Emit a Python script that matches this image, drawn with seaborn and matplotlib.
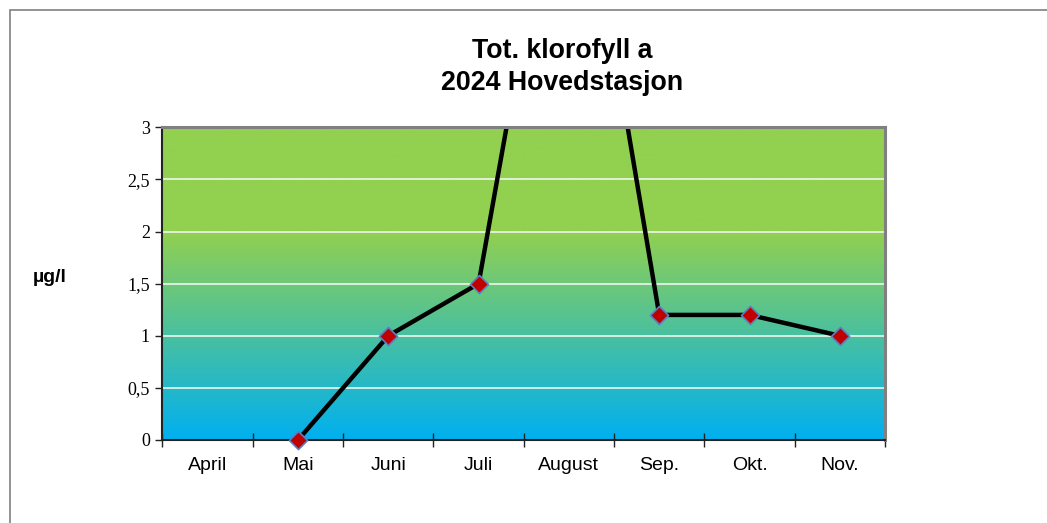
import numpy as np
import pandas as pd
import matplotlib
matplotlib.use("Agg")
import matplotlib.pyplot as plt
import seaborn as sns
from matplotlib.patches import Rectangle
from matplotlib.colors import LinearSegmentedColormap

# data (April has no value, August goes far above the axis)
months = ["April", "Mai", "Juni", "Juli", "August", "Sep.", "Okt.", "Nov."]
klorofyll = [np.nan, 0.0, 1.0, 1.5, 6.35, 1.2, 1.2, 1.0]
y_ticks = [0, 0.5, 1, 1.5, 2, 2.5, 3]
y_labels = ["0", "0,5", "1", "1,5", "2", "2,5", "3"]

df = pd.DataFrame({"pos": np.arange(len(months)), "verdi": klorofyll}).dropna()

sns.set_style("white")
plt.rcParams["font.family"] = ["Liberation Sans", "DejaVu Sans"]
plt.rcParams["text.color"] = "black"
plt.rcParams["xtick.color"] = "black"
plt.rcParams["ytick.color"] = "black"

fig = plt.figure(figsize=(10.47, 5.23), dpi=100)
ax = fig.add_axes([0.1552, 0.1587, 0.6901, 0.5979])

# gradient background: green on top, blue at the bottom
grad_cmap = LinearSegmentedColormap.from_list(
    "bg", [(0.0, "#00b0f0"), (0.667, "#92d050"), (1.0, "#92d050")])
grad = np.linspace(0, 1, 256).reshape(-1, 1)
ax.imshow(grad, cmap=grad_cmap, origin="lower", aspect="auto",
          extent=(-0.5, len(months) - 0.5, 0, 3), zorder=0)

for yv in y_ticks[1:-1]:
    ax.axhline(yv, color="#eef6ee", lw=1.2, zorder=1)

# line is clipped at the top of the plot, markers stay whole at the axis
sns.lineplot(data=df, x="pos", y="verdi", ax=ax, color="black", lw=3.2, zorder=3)
synlig = df[df["verdi"] <= y_ticks[-1]]
sns.scatterplot(data=synlig, x="pos", y="verdi", ax=ax, marker="D", s=85,
                color="#c00000", edgecolor="#5b7fc0", linewidth=1.2,
                zorder=5, clip_on=False)

ax.set_xlim(-0.5, len(months) - 0.5)
ax.set_ylim(0, 3)

ax.set_xticks(np.arange(len(months) + 1) - 0.5)
ax.set_xticklabels([])
ax.set_xticks(np.arange(len(months)), minor=True)
ax.set_xticklabels(months, minor=True, fontsize=14)
ax.tick_params(axis="x", which="major", direction="inout", length=10,
               width=1, color="#222222", bottom=True)
ax.tick_params(axis="x", which="minor", length=0, pad=12)

ax.set_yticks(y_ticks)
ax.set_yticklabels(y_labels, fontsize=13, family=["Liberation Serif", "DejaVu Serif"])
ax.tick_params(axis="y", direction="out", length=5, width=1, color="#222222", left=True, pad=4)

ax.set_xlabel("")
ax.set_ylabel("")

ax.spines["left"].set_color("#222222")
ax.spines["bottom"].set_color("#222222")
ax.spines["left"].set_linewidth(1.5)
ax.spines["bottom"].set_linewidth(1.5)
ax.spines["top"].set_color("#808080")
ax.spines["right"].set_color("#808080")
ax.spines["top"].set_linewidth(2.2)
ax.spines["right"].set_linewidth(2.2)
for s in ax.spines.values():
    s.set_visible(True)
    s.set_zorder(4)

fig.text(50 / 1047, 1 - 278 / 523, "µg/l", fontsize=14, fontweight="bold",
         ha="center", va="center")
fig.text(562 / 1047, 1 - 67 / 523, "Tot. klorofyll a\n2024 Hovedstasjon",
         fontsize=19.3, fontweight="bold", ha="center", va="center", linespacing=1.25)

# outer chart border, running off the right and bottom edges
fig.patches.append(Rectangle((10 / 1047, -0.5), 2.0, (1 - 10 / 523) + 0.5,
                             fill=False, edgecolor="#808080", lw=1.2,
                             transform=fig.transFigure, figure=fig))

fig.savefig("out.png", dpi=100)
